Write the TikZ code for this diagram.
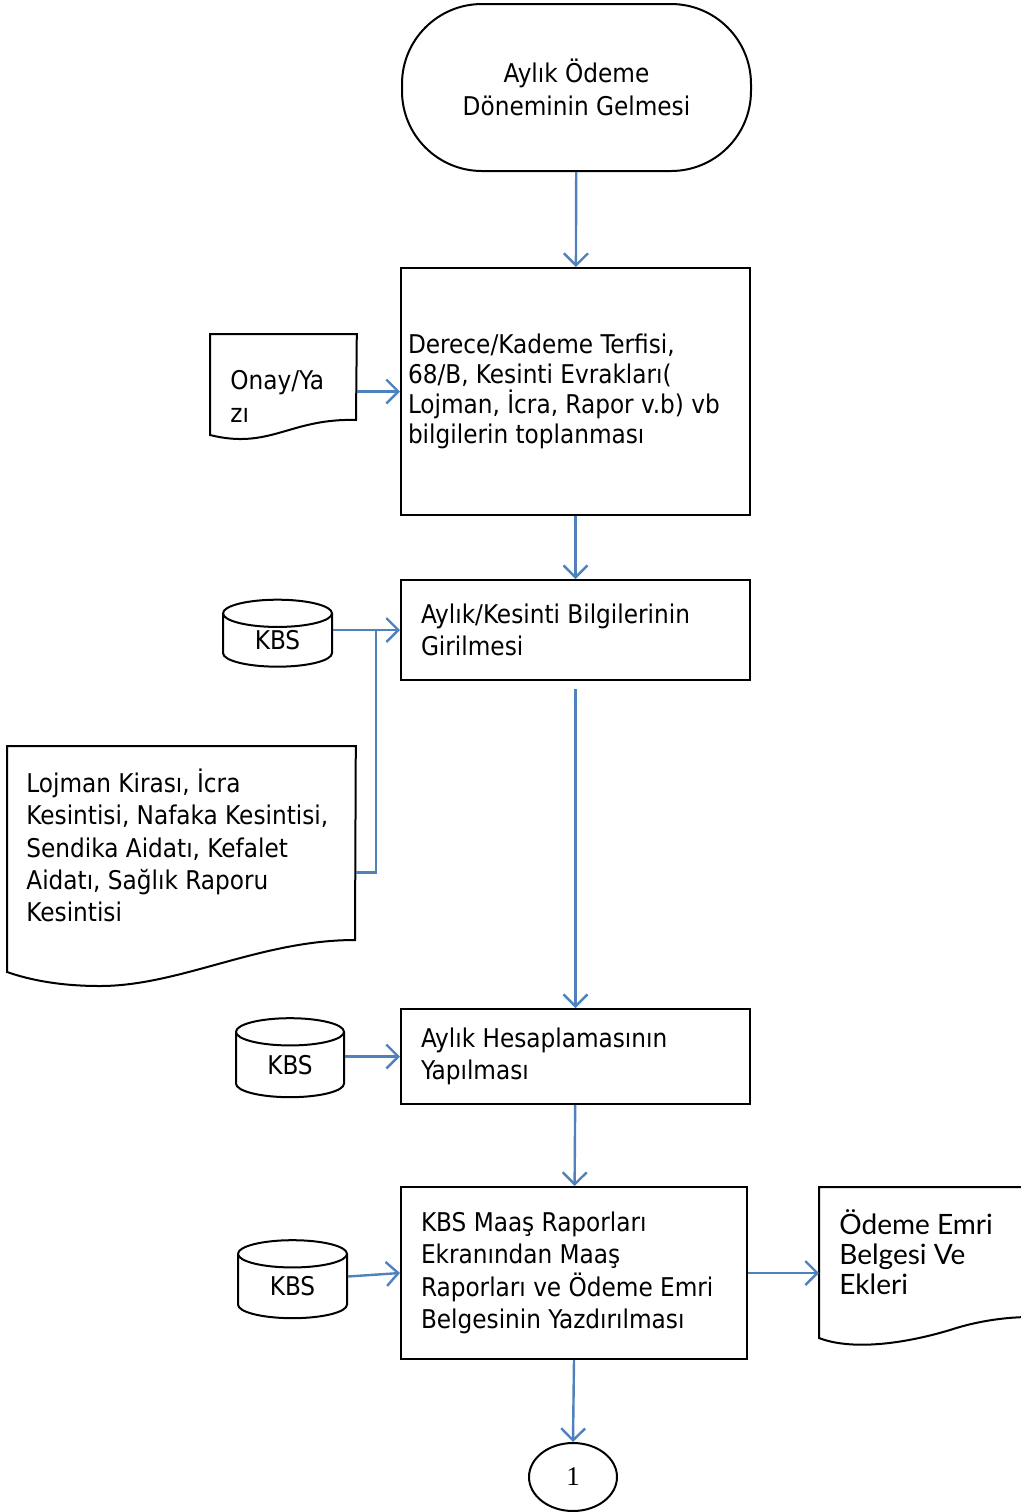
\documentclass[tikz,border=0pt]{standalone}
\usepackage{fontspec}
\setmainfont{DejaVu Sans Condensed}
\newfontfamily\odfont{Lato}
\newfontfamily\numfont{Liberation Serif}
\usetikzlibrary{positioning,arrows.meta,shapes.geometric,calc}
\definecolor{flowblue}{HTML}{4F81BD}
\tikzset{
  txt/.style={font=\fontsize{12.9}{16.2}\selectfont},
  box/.style={txt,draw,line width=1pt,rectangle,align=flush left,inner xsep=10pt,inner ysep=0pt,text width=154.5pt},
  kbs/.style={txt,draw,line width=1pt,cylinder,shape border rotate=90,aspect=0.6,inner sep=0pt},
  flow/.style={draw=flowblue,line width=1.2pt,-{Straight Barb[length=6pt,width=12pt]}},
  flowline/.style={draw=flowblue,line width=1.2pt}
}

\begin{document}
\begin{tikzpicture}[x=.5pt,y=-.5pt]
\useasboundingbox (0,0) rectangle (1021,1512);
% main column
\node[txt,draw,line width=1pt,rounded corners=40pt,align=center,minimum width=174.5pt,minimum height=83.5pt] (start) at (576.5,87.5) {Aylık Ödeme\\Döneminin Gelmesi};
\node[box,font=\fontsize{12.9}{15}\selectfont,inner xsep=3.5pt,text width=167.5pt,minimum height=123.5pt] (gather) at (575.5,391.5) {Derece/Kademe Terfisi,\\68/B, Kesinti Evrakları(\\Lojman, İcra, Rapor v.b) vb\\bilgilerin toplanması};
\node[box,minimum height=50pt] (enter) at (575.5,630) {Aylık/Kesinti Bilgilerinin\\Girilmesi};
\node[box,minimum height=47.5pt] (calc) at (575.5,1056.5) {Aylık Hesaplamasının\\Yapılması};
\node[box,text width=153pt,minimum height=86pt] (print) at (574,1273) {KBS Maaş Raporları\\Ekranından Maaş\\Raporları ve Ödeme Emri\\Belgesinin Yazdırılması};
\node[draw,line width=1pt,ellipse,minimum width=44pt,minimum height=34pt,inner sep=0pt,font=\numfont\fontsize{13.5}{16}\selectfont] (endc) at (573,1477) {1};

% documents
\node[txt,align=flush left,anchor=north west,inner xsep=10pt,text width=53pt,minimum height=62pt] (onay) at (210,334) {Onay/Ya\\zı};
\draw[line width=1pt] (onay.north west) -- (onay.north east) -- (356,420) .. controls (290,418) and (270,450) .. (210,435) -- cycle;
\node[txt,align=flush left,anchor=north west,inner xsep=9.5pt,text width=155pt,minimum height=99pt] (rules) at (7,746) {Lojman Kirası, İcra\\Kesintisi, Nafaka Kesintisi,\\Sendika Aidatı, Kefalet\\Aidatı, Sağlık Raporu\\Kesintisi};
\draw[line width=1pt] (rules.north west) -- (rules.north east) -- (355,940) .. controls (260,940) and (180,986) .. (100,986) .. controls (60,986) and (30,980) .. (7,972) -- cycle;
\node[align=flush left,anchor=north west,inner xsep=10pt,text width=85pt,minimum height=65pt,font=\odfont\fontsize{14}{15}\selectfont] (odeme) at (819,1187) {Ödeme Emri\\Belgesi Ve\\Ekleri};
\draw[line width=1pt] (1030,1317) .. controls (1010,1317) and (980,1320) .. (950,1330) .. controls (900,1345) and (850,1350) .. (819,1338) -- (odeme.north west) -- (1030,1187);

% databases
\node[kbs,minimum width=54.5pt,minimum height=33.5pt] (kbs1) at (277.5,640.5) {KBS};
\node[kbs,minimum width=54pt,minimum height=39.5pt] (kbs2) at (290,1065) {KBS};
\node[kbs,minimum width=54.5pt,minimum height=39pt] (kbs3) at (292.5,1286.5) {KBS};

% connectors
\coordinate (joint) at ($(enter.west)+(-12pt,0)$);
\draw[flow] (start) -- (gather);
\draw[flow] (onay.east |- gather.west) -- (gather.west);
\draw[flow] (gather) -- (enter);
\draw[flow] (kbs1.east |- enter.west) -- (enter.west);
\draw[flowline] ([yshift=-13.5pt]rules.east) -| (joint);
\draw[flow] ([yshift=-4pt]enter.south) -- (calc.north);
\draw[flow] (kbs2.east |- calc.west) -- (calc.west);
\draw[flow] (calc) -- (print);
\draw[flow] ([yshift=5pt]kbs3.east) -- (print.west);
\draw[flow] (print.east) -- (print.east -| odeme.west);
\draw[flow] (print.south) -- (endc.north);
\end{tikzpicture}
\end{document}
